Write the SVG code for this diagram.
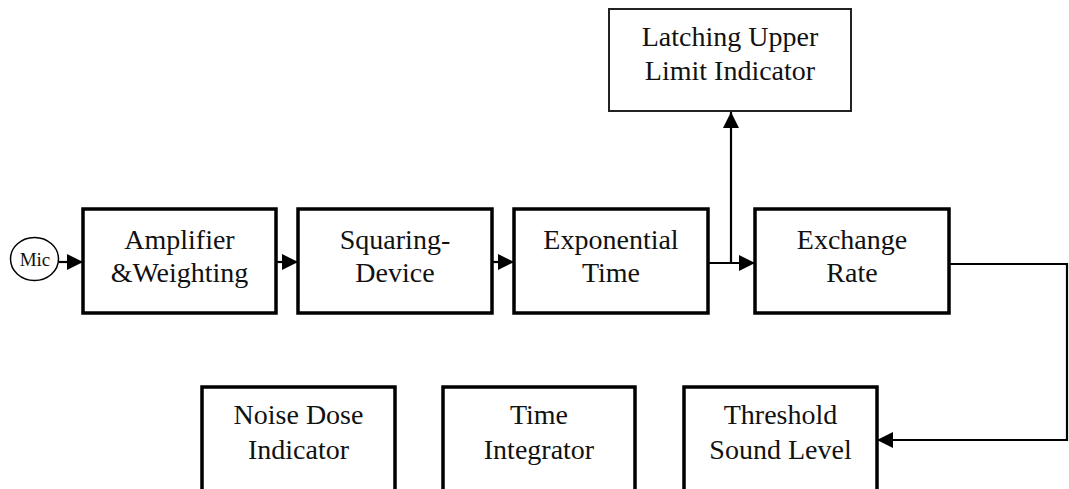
<svg xmlns="http://www.w3.org/2000/svg" width="1069" height="489" viewBox="0 0 1069 489" font-family="'Liberation Serif', 'Times New Roman', Times, serif">
  <style>
    .box { fill: #fff; stroke: #000; stroke-width: 3.5; }
    .thin { fill: #fff; stroke: #222; stroke-width: 2; }
    text { font-family: "Liberation Serif", "Times New Roman", Times, serif; fill: #111; text-anchor: middle; }
    .lbl { font-size: 28px; }
    .mic { font-size: 19px; }
    .wire { fill: none; stroke: #000; stroke-width: 2.2; }
  </style>
  <defs>
    <marker id="arrow" markerUnits="userSpaceOnUse" markerWidth="17" markerHeight="16" refX="16" refY="8" orient="auto">
      <path d="M0,0 L16,8 L0,16 Z" fill="#000"/>
    </marker>
  </defs>
  <rect width="1069" height="489" fill="#fff"/>

  <!-- connectors -->
  <g id="connectors">
    <line class="wire" x1="59" y1="262" x2="83" y2="262" marker-end="url(#arrow)"/>
    <line class="wire" x1="276" y1="262" x2="298" y2="262" marker-end="url(#arrow)"/>
    <line class="wire" x1="492" y1="262" x2="514" y2="262" marker-end="url(#arrow)"/>
    <line class="wire" x1="706" y1="263" x2="755" y2="263" marker-end="url(#arrow)"/>
    <line class="wire" x1="731" y1="263" x2="731" y2="112" marker-end="url(#arrow)"/>
    <polyline class="wire" points="950,264 1067,264 1067,440 877,440" marker-end="url(#arrow)"/>
  </g>

  <!-- microphone input -->
  <g id="mic">
    <ellipse cx="34.5" cy="259" rx="24" ry="21.5" fill="#fff" stroke="#000" stroke-width="1.5"/>
    <text class="mic" x="35" y="266">Mic</text>
  </g>

  <g id="amplifier">
    <rect class="box" x="83" y="209" width="193" height="104"/>
    <text class="lbl" x="179.5" y="249">Amplifier</text>
    <text class="lbl" x="179.5" y="282">&amp;Weighting</text>
  </g>

  <g id="squaring">
    <rect class="box" x="298" y="209" width="194" height="104"/>
    <text class="lbl" x="395" y="249">Squaring-</text>
    <text class="lbl" x="395" y="282">Device</text>
  </g>

  <g id="exponential">
    <rect class="box" x="514" y="209" width="194" height="104"/>
    <text class="lbl" x="611" y="249">Exponential</text>
    <text class="lbl" x="611" y="282">Time</text>
  </g>

  <g id="exchange">
    <rect class="box" x="755" y="209" width="194" height="104"/>
    <text class="lbl" x="852" y="249">Exchange</text>
    <text class="lbl" x="852" y="282">Rate</text>
  </g>

  <g id="latching">
    <rect class="thin" x="609" y="9" width="242" height="102"/>
    <text class="lbl" x="730" y="46">Latching Upper</text>
    <text class="lbl" x="730" y="80">Limit Indicator</text>
  </g>

  <g id="noise-dose">
    <rect class="box" x="202" y="387" width="193" height="120"/>
    <text class="lbl" x="298.5" y="424">Noise Dose</text>
    <text class="lbl" x="298.5" y="459">Indicator</text>
  </g>

  <g id="time-integrator">
    <rect class="box" x="443" y="387" width="192" height="120"/>
    <text class="lbl" x="539" y="424">Time</text>
    <text class="lbl" x="539" y="459">Integrator</text>
  </g>

  <g id="threshold">
    <rect class="box" x="684" y="387" width="193" height="120"/>
    <text class="lbl" x="780.5" y="424">Threshold</text>
    <text class="lbl" x="780.5" y="459">Sound Level</text>
  </g>
</svg>
